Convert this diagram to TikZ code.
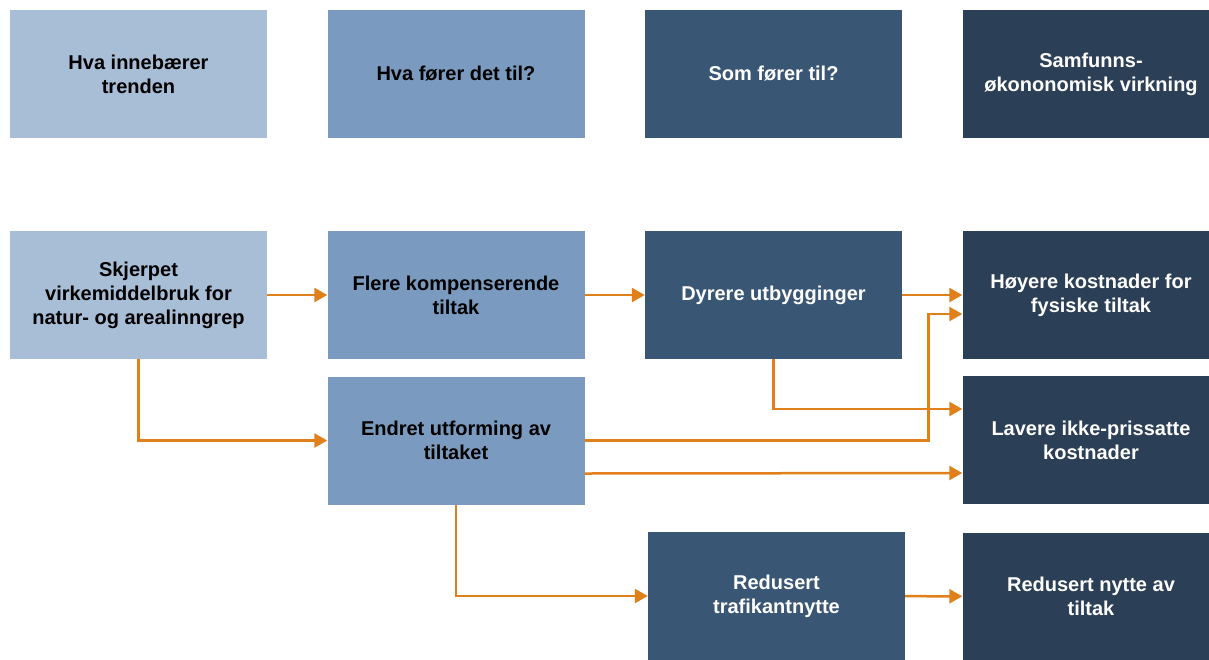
\documentclass[tikz,border=0pt]{standalone}
\usepackage{fontspec}
\setmainfont{Liberation Sans}
\usetikzlibrary{arrows.meta, positioning}
\definecolor{trendblue}{HTML}{A8BDD6}
\definecolor{effectblue}{HTML}{7A9BBF}
\definecolor{resultblue}{HTML}{3A5675}
\definecolor{impactblue}{HTML}{2B3F57}
\definecolor{linkorange}{HTML}{E0801A}

\begin{document}
\begin{tikzpicture}[
      node distance=317.5pt, on grid, >={Triangle[length=13pt,width=14pt]},
      every node/.style={font=\bfseries\fontsize{20}{24}\selectfont, align=center},
      box/.style={rectangle, minimum width=257pt, minimum height=128pt, inner sep=0pt},
      trend/.style={box, fill=trendblue, text=black},
      effect/.style={box, fill=effectblue, text=black},
      result/.style={box, fill=resultblue, text=white},
      impact/.style={box, fill=impactblue, text=white},
      link/.style={->, draw=linkorange, line width=2.5pt},
      ]
      \useasboundingbox (0,0) rectangle (1209pt,-659pt);

      % column headings
      \node[trend]  (h_1) at (138.5pt,-74pt)  {Hva innebærer\\trenden};
      \node[effect] (h_2) [right=of h_1]      {Hva fører det til?};
      \node[result] (h_3) [right=of h_2]      {Som fører til?};
      \node[impact] (h_4) [right=of h_3]      {Samfunns-\\økononomisk virkning};

      % chain
      \node[trend]  (skjerpet)  [below=221pt of h_1]      {Skjerpet\\virkemiddelbruk for\\natur- og arealinngrep};
      \node[effect] (flere)     [right=of skjerpet]       {Flere kompenserende\\tiltak};
      \node[result] (dyrere)    [right=of flere]          {Dyrere utbygginger};
      \node[impact] (hoyere)    [right=of dyrere]         {Høyere kostnader for\\fysiske tiltak};
      \node[effect] (endret)    [below=145.5pt of flere]  {Endret utforming av\\tiltaket};
      \node[impact] (lavere)    [below=145pt of hoyere]   {Lavere ikke-prissatte\\kostnader};
      \node[result] (trafikant) [below=301pt of dyrere, xshift=3pt] {Redusert\\trafikantnytte};
      \node[impact] (nytte)     [below=301.5pt of hoyere] {Redusert nytte av\\tiltak};

      \coordinate (knee) at ([shift={(-34pt,-19pt)}]hoyere.west);

      \draw[link] (skjerpet) -- (flere);
      \draw[link] (flere) -- (dyrere);
      \draw[link] (dyrere) -- (hoyere);
      \draw[link] (skjerpet.south) |- (endret);
      \draw[link] (dyrere.south) |- ([yshift=31pt]lavere.west);
      \draw[link] (endret.east) -| (knee) -- ([yshift=-19pt]hoyere.west);
      \draw[link] ([yshift=-33pt]endret.east) -- ([yshift=-33pt]lavere.west);
      \draw[link] (endret.south) |- (trafikant);
      \draw[link] (trafikant) -- (nytte);
    \end{tikzpicture}
\end{document}
